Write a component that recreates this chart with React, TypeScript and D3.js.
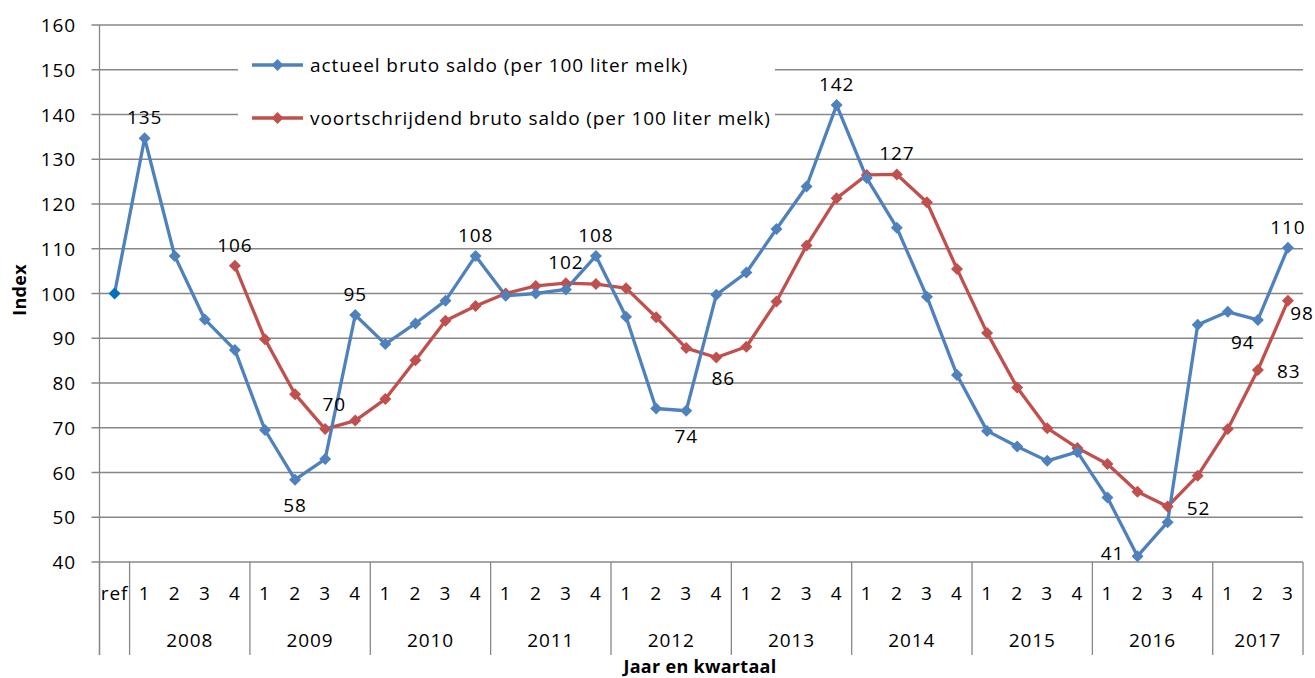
import React from 'react';
import * as d3 from 'd3';

// categories: ref + quarters per year
const quarters = ['ref', '1', '2', '3', '4', '1', '2', '3', '4', '1', '2', '3', '4', '1', '2', '3', '4',
  '1', '2', '3', '4', '1', '2', '3', '4', '1', '2', '3', '4', '1', '2', '3', '4', '1', '2', '3', '4', '1', '2', '3'];
const years = ['2008', '2009', '2010', '2011', '2012', '2013', '2014', '2015', '2016', '2017'];
const quartersPerYear = [4, 4, 4, 4, 4, 4, 4, 4, 4, 3];

const actueel = [100.0, 134.7, 108.4, 94.2, 87.4, 69.5, 58.4, 63.0, 95.2, 88.7, 93.3, 98.4, 108.4,
  99.5, 100.0, 100.9, 108.4, 94.8, 74.3, 73.8, 99.7, 104.7, 114.4, 123.9, 142.1, 125.8, 114.7, 99.3,
  81.8, 69.3, 65.8, 62.6, 64.6, 54.4, 41.3, 48.9, 93.0, 95.9, 94.1, 110.2];
const voortschrijdend = [null, null, null, null, 106.2, 89.8, 77.5, 69.7, 71.6, 76.4, 85.1, 93.9, 97.2,
  100.0, 101.7, 102.3, 102.1, 101.2, 94.7, 87.8, 85.7, 88.1, 98.2, 110.7, 121.3, 126.5, 126.6, 120.4,
  105.5, 91.2, 79.0, 69.9, 65.5, 61.9, 55.7, 52.4, 59.3, 69.7, 82.9, 98.4];

const yTicks = [40, 50, 60, 70, 80, 90, 100, 110, 120, 130, 140, 150, 160];

const seriesNames = ['actueel bruto saldo (per 100 liter melk)', 'voortschrijdend bruto saldo (per 100 liter melk)'];

// which points carry a value label
const actueelLabels = [
  { i: 1, pos: 'above' }, { i: 6, pos: 'below' }, { i: 8, pos: 'above' }, { i: 12, pos: 'above' },
  { i: 16, pos: 'above' }, { i: 19, pos: 'below' }, { i: 24, pos: 'above' }, { i: 34, pos: 'left' },
  { i: 38, pos: 'belowLeft' }, { i: 39, pos: 'above' },
];
const voortLabels = [
  { i: 4, pos: 'above' }, { i: 7, pos: 'aboveRight' }, { i: 15, pos: 'above' }, { i: 20, pos: 'belowRight' },
  { i: 26, pos: 'above' }, { i: 35, pos: 'right' }, { i: 38, pos: 'right' }, { i: 39, pos: 'rightLow' },
];

const W = 1315;
const H = 678;
const left = 99.5, right = 1303, top = 25, bottom = 562;
const BLUE = '#4F81BD';
const RED = '#C0504D';
const GRID = '#878787';
const FONT = '"Open Sans", sans-serif';
const FS = 19;
const LS = 0.9;
const MK = 6;

const offsets: Record<string, [number, number]> = {
  above: [0, -21],
  below: [0, 25],
  left: [-25, -3],
  right: [31, 1],
  aboveRight: [9, -25],
  belowRight: [7, 21],
  belowLeft: [-15, 22],
  rightLow: [14, 12],
};

const App = () => {
  const x = d3.scaleBand<number>()
    .domain(d3.range(quarters.length))
    .range([left, right]);
  const cx = (i: number) => (x(i) as number) + x.bandwidth() / 2;
  const y = d3.scaleLinear().domain([40, 160]).range([bottom, top]);

  const lineFn = d3.line<number | null>()
    .defined(d => d != null)
    .x((d, i) => cx(i))
    .y(d => y(d as number));

  const diamond = (px: number, py: number, fill: string, key: string) => (
    <path key={key} d={`M${px},${py - MK}L${px + MK},${py}L${px},${py + MK}L${px - MK},${py}Z`} fill={fill} />
  );

  // year group boundaries
  const dividers: number[] = [x(0) as number, x(1) as number];
  const yearSpans: { label: string; x0: number; x1: number }[] = [];
  let start = 1;
  years.forEach((yr, k) => {
    const end = start + quartersPerYear[k];
    const x0 = x(start) as number;
    const x1 = end < quarters.length ? (x(end) as number) : right;
    yearSpans.push({ label: yr, x0, x1 });
    dividers.push(x1);
    start = end;
  });

  const txt = { fontSize: FS, fontFamily: FONT, letterSpacing: LS, fill: '#000' };

  const renderLabels = (vals: (number | null)[], specs: { i: number; pos: string }[], key: string) =>
    specs.map(s => {
      const v = vals[s.i] as number;
      const [dx, dy] = offsets[s.pos];
      return (
        <text key={key + s.i} x={cx(s.i) + dx} y={y(v) + dy} textAnchor="middle" dominantBaseline="central" {...txt}>
          {Math.round(v)}
        </text>
      );
    });

  return (
    <svg width={W} height={H} style={{ position: 'absolute', left: 0, top: 0, background: '#fff' }}>
      {/* gridlines */}
      {yTicks.map(t => (
        <g key={t}>
          <line x1={left - 8} x2={right} y1={y(t)} y2={y(t)} stroke={GRID} strokeWidth={1.3} />
          <text x={76} y={y(t)} textAnchor="end" dominantBaseline="central" {...txt}>{t}</text>
        </g>
      ))}
      {/* y axis */}
      <line x1={left} x2={left} y1={top} y2={655} stroke={GRID} strokeWidth={1.3} />
      {/* category dividers */}
      {dividers.map((d, k) => (
        <line key={k} x1={d} x2={d} y1={bottom} y2={655} stroke={GRID} strokeWidth={1.3} />
      ))}
      {quarters.map((q, i) => (
        <text key={i} x={cx(i)} y={593} textAnchor="middle" dominantBaseline="central" {...txt}>{q}</text>
      ))}
      {yearSpans.map(s => (
        <text key={s.label} x={(s.x0 + s.x1) / 2} y={640} textAnchor="middle" dominantBaseline="central" {...txt}>{s.label}</text>
      ))}
      {/* axis titles */}
      <text transform="translate(19,290) rotate(-90)" textAnchor="middle" dominantBaseline="central" fontSize={18} letterSpacing={0.3} fontWeight="bold" fontFamily={FONT}>Index</text>
      <text x={700} y={666} textAnchor="middle" dominantBaseline="central" fontSize={18} letterSpacing={0.3} fontWeight="bold" fontFamily={FONT}>Jaar en kwartaal</text>

      {/* legend box */}
      <rect x={238} y={42} width={537} height={94} fill="#fff" />
      {[BLUE, RED].map((c, k) => {
        const ly = k === 0 ? 65 : 118;
        return (
          <g key={k}>
            <line x1={252} x2={303} y1={ly} y2={ly} stroke={c} strokeWidth={3.3} />
            {diamond(277.5, ly, c, 'lg' + k)}
            <text x={310} y={ly} dominantBaseline="central" {...txt}>{seriesNames[k]}</text>
          </g>
        );
      })}

      {/* series */}
      <path d={lineFn(voortschrijdend) as string} fill="none" stroke={RED} strokeWidth={3.3} strokeLinejoin="round" />
      <path d={lineFn(actueel) as string} fill="none" stroke={BLUE} strokeWidth={3.3} strokeLinejoin="round" />
      {voortschrijdend.map((v, i) => (v == null ? null : diamond(cx(i), y(v), RED, 'r' + i)))}
      {actueel.map((v, i) => diamond(cx(i), y(v), i === 0 ? '#0070C0' : BLUE, 'b' + i))}

      {renderLabels(actueel, actueelLabels, 'la')}
      {renderLabels(voortschrijdend, voortLabels, 'lv')}
    </svg>
  );
};

export default App;
